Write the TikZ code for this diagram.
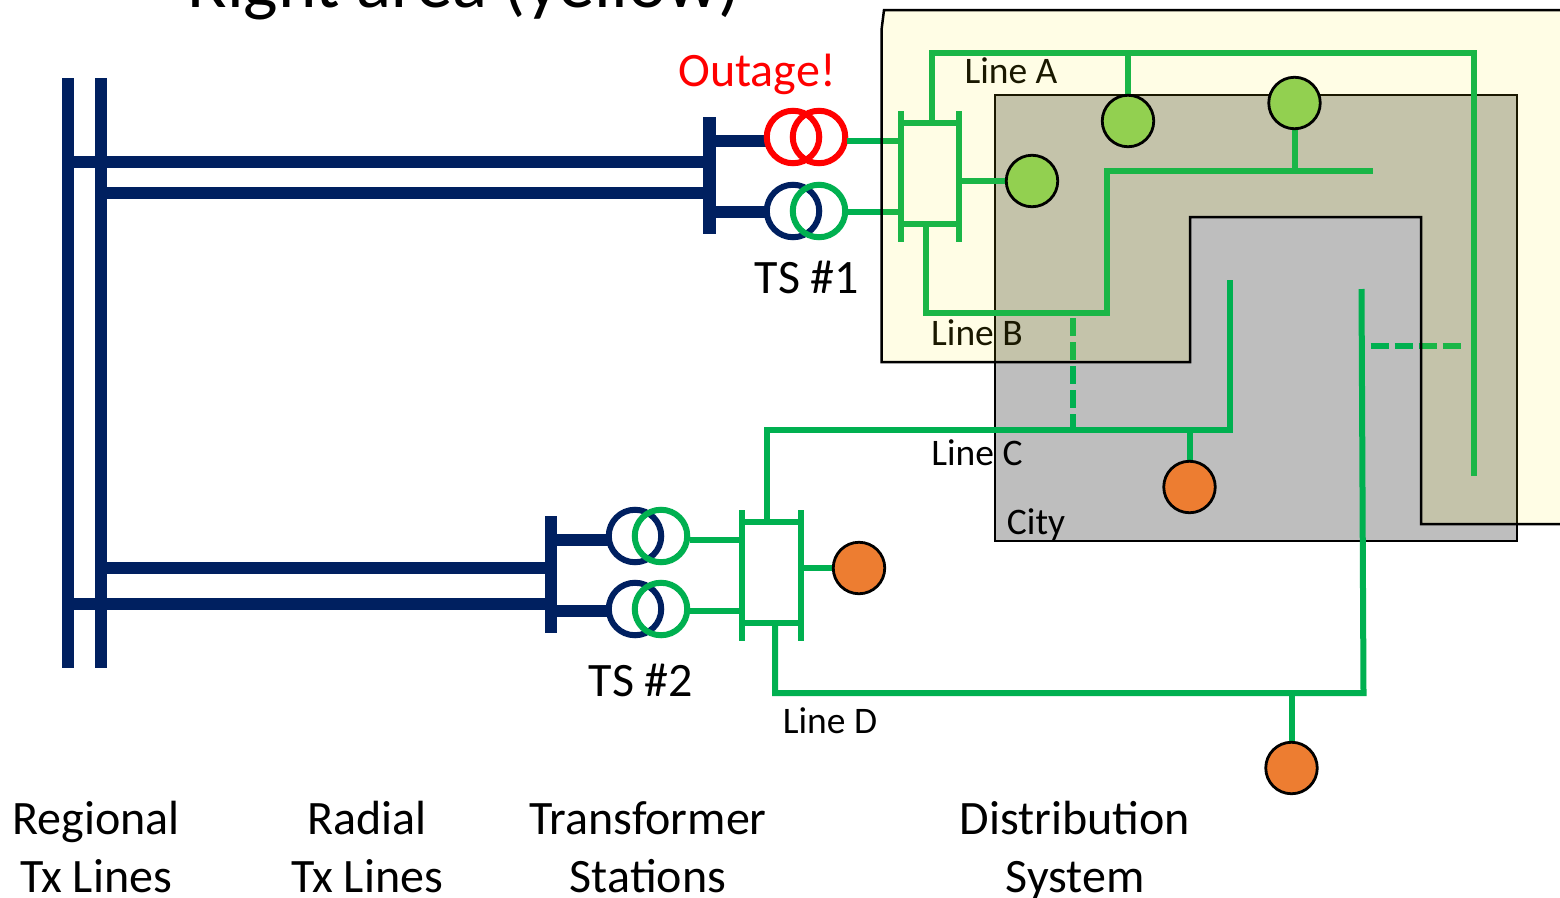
\documentclass[tikz,border=0pt]{standalone}
\usepackage{fontspec}
\setmainfont{Carlito}
\definecolor{navy}{HTML}{002060}
\definecolor{gline}{HTML}{00B050}
\definecolor{cityfill}{HTML}{BEBEBE}
\definecolor{loadg}{HTML}{92D050}
\definecolor{loado}{HTML}{ED7D31}
\tikzset{
  txbig/.style={anchor=base,inner sep=0pt,font=\fontsize{48}{50}\selectfont},
  txsmall/.style={anchor=base,inner sep=0pt,font=\fontsize{37.5}{40}\selectfont},
  navybar/.style={draw=navy,line width=12.5pt},
  navyline/.style={draw=navy,line width=11.5pt},
  gl/.style={draw=gline,line width=6pt,line join=miter},
  gdash/.style={draw=gline,line width=6pt,dash pattern=on 18pt off 6pt},
  txc/.style={circle,draw=#1,line width=6pt,minimum size=52.5pt,inner sep=0pt,outer sep=0pt},
  load/.style={circle,draw=black,line width=2.8pt,fill=#1,minimum size=51.5pt,inner sep=0pt,outer sep=0pt},
}
\begin{document}
\begin{tikzpicture}[x=1pt,y=-1pt]
\useasboundingbox (0,0) rectangle (1560,897);
\clip (0,0) rectangle (1560,897);
\fill[white] (0,0) rectangle (1560,897);
% city
\node[draw=black,line width=2.5pt,fill=cityfill,minimum width=522pt,minimum height=446pt,inner sep=0pt,outer sep=0pt,anchor=north west] (city) at (995,95) {};
% coordinates
\coordinate (r1t) at (68,78); \coordinate (r1b) at (68,668);
\coordinate (r2t) at (101,78); \coordinate (r2b) at (101,668);
\coordinate (a1) at (68,162); \coordinate (a2) at (710,162);
\coordinate (b1) at (101,193); \coordinate (b2) at (710,193);
\coordinate (c1) at (101,568); \coordinate (c2) at (551,568);
\coordinate (d1) at (68,604); \coordinate (d2) at (551,604);
\coordinate (bar1t) at (709.5,117); \coordinate (bar1b) at (709.5,234);
\coordinate (bar2t) at (551,516); \coordinate (bar2b) at (551,633);
% transmission
\draw[navybar] (r1t) -- (r1b);
\draw[navybar] (r2t) -- (r2b);
\draw[navyline] (a1) -- (a2);
\draw[navyline] (b1) -- (b2);
\draw[navyline] (c1) -- (c2);
\draw[navyline] (d1) -- (d2);
\draw[navybar] (bar1t) -- (bar1b);
\draw[navybar] (bar2t) -- (bar2b);
% stubs
\coordinate (s1a) at (710,141); \coordinate (s1ae) at (769,141);
\coordinate (s1b) at (710,212); \coordinate (s1be) at (767,212);
\coordinate (s2a) at (551,540); \coordinate (s2ae) at (609,540);
\coordinate (s2b) at (551,611); \coordinate (s2be) at (609,611);
\draw[navyline] (s1a) -- (s1ae);
\draw[navyline] (s1b) -- (s1be);
\draw[navyline] (s2a) -- (s2ae);
\draw[navyline] (s2b) -- (s2be);
% transformers
\node[txc=red] (t1al) at (793,137) {};
\node[txc=red] (t1ar) at (819,137) {};
\node[txc=navy] (t1bl) at (793,211) {};
\node[txc=gline] (t1br) at (819,211) {};
\node[txc=navy] (t2al) at (635,536) {};
\node[txc=gline] (t2ar) at (661,536) {};
\node[txc=navy] (t2bl) at (635,609) {};
\node[txc=gline] (t2br) at (661,609) {};
% station buses TS1
\coordinate (l1t) at (901,111); \coordinate (l1b) at (901,242);
\coordinate (q1t) at (959,111); \coordinate (q1b) at (959,242);
\coordinate (h1tl) at (901,123); \coordinate (h1tr) at (959,123);
\coordinate (h1bl) at (901,224); \coordinate (h1br) at (959,224);
\coordinate (in1a) at (847,141); \coordinate (in1ae) at (901,141);
\coordinate (in1b) at (847,212); \coordinate (in1be) at (901,212);
\draw[gl] (l1t) -- (l1b);
\draw[gl] (q1t) -- (q1b);
\draw[gl] (h1tl) -- (h1tr);
\draw[gl] (h1bl) -- (h1br);
\draw[gl] (in1a) -- (in1ae);
\draw[gl] (in1b) -- (in1be);
% station buses TS2
\coordinate (l2t) at (742,510); \coordinate (l2b) at (742,641);
\coordinate (q2t) at (801,510); \coordinate (q2b) at (801,641);
\coordinate (h2tl) at (742,522); \coordinate (h2tr) at (801,522);
\coordinate (h2bl) at (742,623); \coordinate (h2br) at (801,623);
\coordinate (in2a) at (690,540); \coordinate (in2ae) at (742,540);
\coordinate (in2b) at (690,611); \coordinate (in2be) at (742,611);
\draw[gl] (l2t) -- (l2b);
\draw[gl] (q2t) -- (q2b);
\draw[gl] (h2tl) -- (h2tr);
\draw[gl] (h2bl) -- (h2br);
\draw[gl] (in2a) -- (in2ae);
\draw[gl] (in2b) -- (in2be);
% load positions
\path (1032,181) coordinate (p1) (1128,121) coordinate (p2) (1294.5,103) coordinate (p3)
      (1189.5,487) coordinate (p4) (859,568) coordinate (p5) (1291.5,768) coordinate (p6);
% feeders
\coordinate (lA0) at (932,123); \coordinate (lA1) at (932,53); \coordinate (lA2) at (1474,53); \coordinate (lA3) at (1474,476);
\draw[gl] (lA0) -- (lA1) -- (lA2) -- (lA3);
\coordinate (jA) at (1128,53);
\draw[gl] (jA) -- (p2);
\coordinate (lB0) at (925.5,224); \coordinate (lB1) at (925.5,313); \coordinate (lB2) at (1107,313); \coordinate (lB3) at (1107,171); \coordinate (lB4) at (1373,171);
\draw[gl] (lB0) -- (lB1) -- (lB2) -- (lB3) -- (lB4);
\coordinate (jB) at (1294.5,171);
\draw[gl] (jB) -- (p3);
\coordinate (j1) at (959,181);
\draw[gl] (j1) -- (p1);
\coordinate (lC0) at (767,522); \coordinate (lC1) at (767,430); \coordinate (lC2) at (1230,430); \coordinate (lC3) at (1230,280);
\draw[gl] (lC0) -- (lC1) -- (lC2) -- (lC3);
\coordinate (jC) at (1189.5,430);
\draw[gl] (jC) -- (p4);
\coordinate (lD0) at (775,623); \coordinate (lD1) at (775,693); \coordinate (lD2) at (1363.5,693); \coordinate (lD3) at (1361.5,289);
\draw[gl] (lD0) -- (lD1) -- (lD2) -- (lD3);
\coordinate (jD) at (1291.5,693);
\draw[gl] (jD) -- (p6);
\coordinate (j5) at (801,568);
\draw[gl] (j5) -- (p5);
% normally open ties
\coordinate (d1a) at (1073,318); \coordinate (d1c) at (1073,430);
\draw[gdash] (d1a) -- (d1c);
\coordinate (d2a) at (1370.5,345.5); \coordinate (d2c) at (1462,345.5);
\draw[gdash] (d2a) -- (d2c);
% labels under the tint
\node[txsmall] (lineA) at (1011,83) {Line A};
\node[txsmall] (lineB) at (977,345) {Line B};
\node[txsmall] (lineC) at (977,465) {Line C};
\node[txsmall] (cityl) at (1036,534) {City};
% area tint and outline
\path[fill=yellow,fill opacity=0.1] (884,10) -- (1562,10) -- (1562,524) -- (1421,524) -- (1421,217) -- (1190,217) -- (1190,362) -- (881.5,362) -- (881.5,30) -- cycle;
\draw[black,line width=2.5pt] (1562,10) -- (884,10) -- (881.5,30) -- (881.5,362) -- (1190,362) -- (1190,217) -- (1421,217) -- (1421,524) -- (1562,524);
% loads
\node[load=loadg] (n1) at (p1) {};
\node[load=loadg] (n2) at (p2) {};
\node[load=loadg] (n3) at (p3) {};
\node[load=loado] (n4) at (p4) {};
\node[load=loado] (n5) at (p5) {};
\node[load=loado] (n6) at (p6) {};
% texts
\node[anchor=base,inner sep=0pt,font=\fontsize{73}{80}\selectfont] (title) at (464,7) {Right area (yellow)};
\node[txbig,text=red] (outage) at (757,86) {Outage!};
\node[txbig] (ts1) at (807,293) {TS \#1};
\node[txbig] (ts2) at (641,696) {TS \#2};
\node[txsmall] (lineD) at (830,733) {Line D};
\node[txbig] (reg) at (96,834) {Regional};
\node[txbig] (reg2) at (96,892) {Tx Lines};
\node[txbig] (rad) at (367,834) {Radial};
\node[txbig] (rad2) at (367,892) {Tx Lines};
\node[txbig] (tra) at (648,834) {Transformer};
\node[txbig] (tra2) at (648,892) {Stations};
\node[txbig] (dis) at (1075,834) {Distribution};
\node[txbig] (dis2) at (1075,892) {System};
\end{tikzpicture}
\end{document}
